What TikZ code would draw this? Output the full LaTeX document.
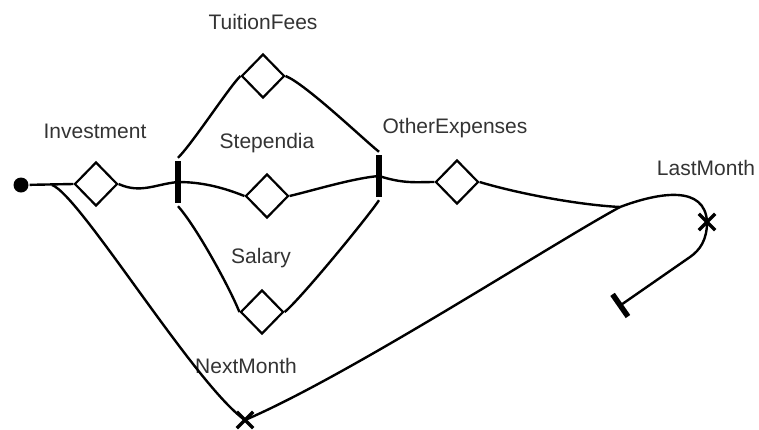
\documentclass[tikz,border=0pt]{standalone}
\usepackage{fontspec}
\setmainfont{Liberation Sans}
\usetikzlibrary{shapes.geometric,shapes.misc,arrows.meta}
\definecolor{txt}{HTML}{333333}
\begin{document}
\begin{tikzpicture}[x=1pt,y=-1pt,line width=2.4pt,
  place/.style={diamond,draw,fill=white,minimum width=43pt,minimum height=44pt,inner sep=0pt,line width=2.2pt},
  trans/.style={rectangle,fill=black,minimum width=5.5pt,minimum height=42pt,inner sep=0pt},
  xmark/.style={cross out,draw,minimum size=13pt,inner sep=0pt,line width=3.4pt},
  dot/.style={circle,fill=black,minimum size=15pt,inner sep=0pt},
  lbl/.style={text=txt,font=\fontsize{21}{25}\selectfont}]
\useasboundingbox (0,0) rectangle (759,429);
% nodes
\node[dot] (start) at (21,185) {};
\node[place] (inv) at (96,184) {};
\node[trans] (lbar) at (178,182) {};
\node[trans] (rbar) at (379,176) {};
\node[place] (tuit) at (263,76) {};
\node[place] (stp) at (267,196) {};
\node[place] (sal) at (262,312) {};
\node[place] (oth) at (457,182) {};
\coordinate (split) at (52,185);
\coordinate (junc) at (620,207);
\coordinate (mid) at (690,257);
\coordinate (endT) at (618,307);
% labels
\node[lbl] (lInv) at (95,131) {Investment};
\node[lbl] (lTuit) at (263,22) {TuitionFees};
\node[lbl] (lStp) at (267,143) {Stependia};
\node[lbl] (lSal) at (261,258) {Salary};
\node[lbl] (lOth) at (455,128) {OtherExpenses};
\node[lbl] (lLast) at (706,168) {LastMonth};
\node[lbl] (lNext) at (246,366) {NextMonth};
% edges
\draw (start) -- (inv.west);
\draw (split) .. controls (80,195) and (195,385) .. (245,420) coordinate (nx);
\draw (inv.east) .. controls +(22,10) and +(-22,2) .. (lbar.center);
\draw ([yshift=2pt]lbar.north) .. controls +(15,-15) and +(-12,12) .. (tuit.west);
\draw (tuit.east) .. controls +(20,8) and +(-15,-12) .. ([yshift=2pt]rbar.north);
\draw (lbar.center) .. controls +(25,0) and +(-20,-8) .. (stp.west);
\draw (stp.east) .. controls +(25,-6) and +(-25,2) .. (rbar.center);
\draw ([yshift=-2pt]lbar.south) .. controls +(18,20) and +(-10,-25) .. (sal.west);
\draw (sal.east) .. controls +(15,-12) and +(-12,18) .. ([yshift=-2pt]rbar.south);
\draw (rbar.center) .. controls +(25,8) and +(-18,0) .. (oth.west);
\draw (oth.east) .. controls +(40,12) and +(-40,-2) .. (junc)
      .. controls (660,192) and (705,185) .. (707,222) coordinate (lx);
\draw (nx) .. controls (350,375) and (550,245) .. (junc);
\draw[-{Bar[width=27pt,line width=5.5pt]}] (lx) .. controls (707,240) and (700,250) .. (mid) -- (endT);
% crosses
\node[xmark] (nextx) at (nx) {};
\node[xmark] (lastx) at (lx) {};
\end{tikzpicture}
\end{document}
